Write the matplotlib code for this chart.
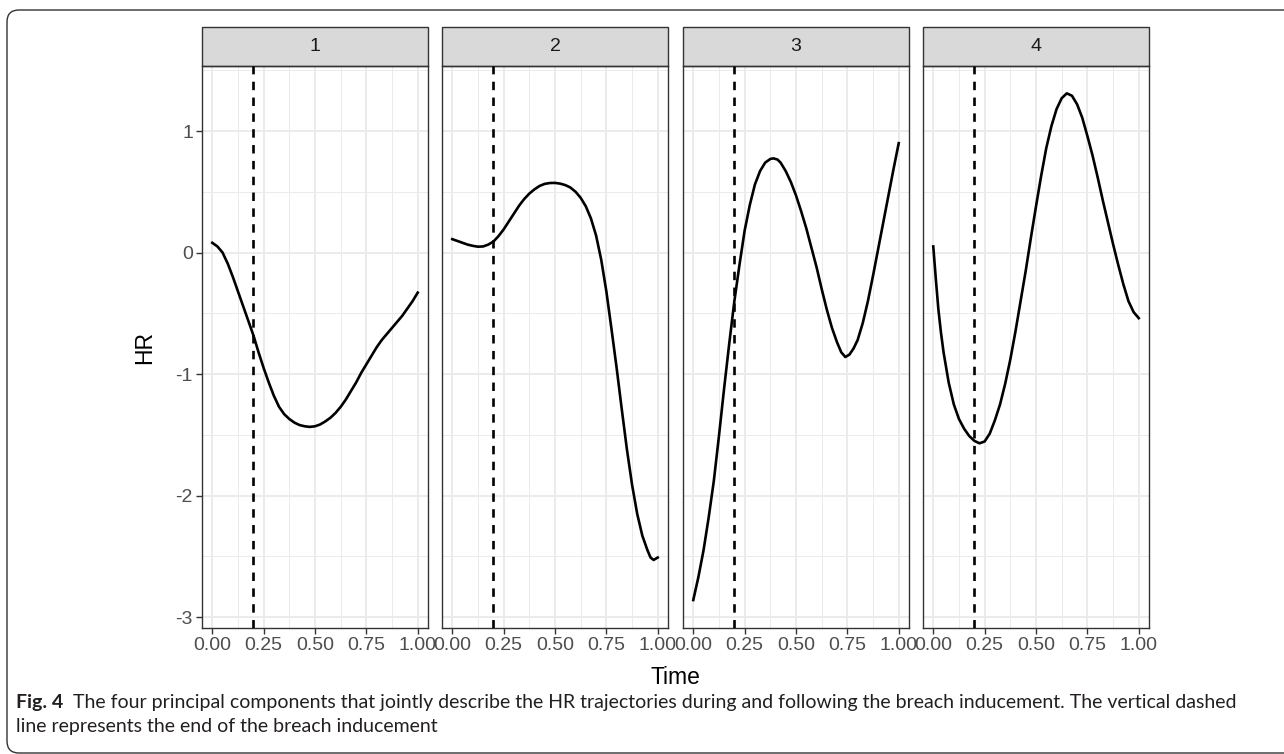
import matplotlib.pyplot as plt
from matplotlib.patches import Rectangle, FancyBboxPatch
from matplotlib.transforms import IdentityTransform
from matplotlib.ticker import MultipleLocator

plt.rcParams['font.family'] = 'Liberation Sans'
plt.rcParams['axes.unicode_minus'] = False

# Data
components = ['1', '2', '3', '4']

time_1 = [0, 0.025, 0.05, 0.075, 0.10, 0.125, 0.15, 0.175, 0.20, 0.225, 0.25,
          0.275, 0.30, 0.325, 0.35, 0.375, 0.40, 0.425, 0.45, 0.475, 0.50,
          0.525, 0.55, 0.575, 0.60, 0.625, 0.65, 0.675, 0.70, 0.725, 0.75,
          0.775, 0.80, 0.825, 0.85, 0.875, 0.90, 0.925, 0.95, 0.975, 1.00]
hr_1 = [0.08, 0.05, 0.0, -0.09, -0.20, -0.32, -0.44, -0.56, -0.68, -0.82, -0.95,
        -1.07, -1.18, -1.27, -1.33, -1.37, -1.40, -1.42, -1.43, -1.435, -1.43,
        -1.415, -1.39, -1.36, -1.32, -1.27, -1.21, -1.14, -1.07, -0.99, -0.92,
        -0.85, -0.78, -0.72, -0.67, -0.62, -0.57, -0.52, -0.46, -0.40, -0.33]

time_2 = [0, 0.025, 0.05, 0.075, 0.10, 0.125, 0.15, 0.175, 0.20, 0.225, 0.25,
          0.275, 0.30, 0.325, 0.35, 0.375, 0.40, 0.425, 0.45, 0.475, 0.50,
          0.525, 0.55, 0.575, 0.60, 0.625, 0.65, 0.675, 0.70, 0.725, 0.75,
          0.775, 0.80, 0.825, 0.85, 0.875, 0.90, 0.925, 0.95, 0.965, 0.98, 1.00]
hr_2 = [0.11, 0.095, 0.08, 0.065, 0.055, 0.048, 0.05, 0.065, 0.09, 0.135, 0.19,
        0.255, 0.32, 0.385, 0.44, 0.485, 0.52, 0.548, 0.565, 0.572, 0.573,
        0.567, 0.555, 0.535, 0.50, 0.45, 0.38, 0.28, 0.14, -0.06, -0.32,
        -0.63, -0.95, -1.29, -1.62, -1.91, -2.15, -2.33, -2.45, -2.51, -2.53, -2.51]

time_3 = [0, 0.025, 0.05, 0.075, 0.10, 0.125, 0.15, 0.175, 0.20, 0.225, 0.25,
          0.275, 0.30, 0.325, 0.35, 0.375, 0.39, 0.41, 0.425, 0.45, 0.475, 0.50,
          0.525, 0.55, 0.575, 0.60, 0.625, 0.65, 0.675, 0.70, 0.72, 0.74,
          0.76, 0.78, 0.80, 0.825, 0.85, 0.875, 0.90, 0.925, 0.95, 0.975, 1.00]
hr_3 = [-2.86, -2.67, -2.45, -2.18, -1.88, -1.51, -1.12, -0.75, -0.40, -0.10, 0.18,
        0.39, 0.56, 0.67, 0.74, 0.77, 0.775, 0.765, 0.74, 0.67, 0.58, 0.47,
        0.34, 0.20, 0.04, -0.12, -0.30, -0.47, -0.62, -0.74, -0.82, -0.86,
        -0.84, -0.79, -0.72, -0.58, -0.40, -0.19, 0.03, 0.25, 0.47, 0.69, 0.90]

time_4 = [0, 0.0125, 0.025, 0.0375, 0.05, 0.075, 0.10, 0.125, 0.15, 0.175, 0.20,
          0.225, 0.25, 0.275, 0.30, 0.325, 0.35, 0.375, 0.40, 0.425, 0.45, 0.475,
          0.50, 0.525, 0.55, 0.575, 0.60, 0.625, 0.65, 0.675, 0.70, 0.725, 0.75,
          0.775, 0.80, 0.825, 0.85, 0.875, 0.90, 0.925, 0.95, 0.975, 1.00]
hr_4 = [0.05, -0.22, -0.47, -0.66, -0.82, -1.07, -1.25, -1.37, -1.45, -1.51, -1.55,
        -1.57, -1.555, -1.49, -1.38, -1.25, -1.08, -0.88, -0.65, -0.40, -0.15, 0.12,
        0.38, 0.63, 0.86, 1.04, 1.18, 1.27, 1.31, 1.29, 1.22, 1.11, 0.96,
        0.80, 0.62, 0.43, 0.25, 0.07, -0.10, -0.26, -0.40, -0.49, -0.54]

times = [time_1, time_2, time_3, time_4]
hrs = [hr_1, hr_2, hr_3, hr_4]

breach_end = 0.2
y_ticks = [-3, -2, -1, 0, 1]
x_ticks = [0, 0.25, 0.5, 0.75, 1.0]
x_tick_labels = ['0.00', '0.25', '0.50', '0.75', '1.00']

caption_bold = 'Fig. 4'
caption_line1 = ('The four principal components that jointly describe the HR trajectories '
                 'during and following the breach inducement. The vertical dashed')
caption_line2 = 'line represents the end of the breach inducement'

W, H = 1284, 754
fig = plt.figure(figsize=(W / 100, H / 100), dpi=100)

# panel layout in pixels
panel_left = [202, 442, 683, 923]
panel_w = 226
panel_top, panel_bottom = 66, 628
strip_h = 39
ph = panel_bottom - panel_top

for i, comp in enumerate(components):
    ax = fig.add_axes([panel_left[i] / W, 1 - panel_bottom / H, panel_w / W, ph / H])
    ax.set_xlim(-0.05, 1.05)
    ax.set_ylim(-3.09, 1.535)
    ax.xaxis.set_minor_locator(MultipleLocator(0.125))
    ax.yaxis.set_minor_locator(MultipleLocator(0.5))
    ax.set_xticks(x_ticks)
    ax.set_xticklabels(x_tick_labels)
    ax.set_yticks(y_ticks)
    ax.grid(which='major', color='#EBEBEB', lw=1.4, zorder=0)
    ax.grid(which='minor', color='#EBEBEB', lw=0.7, zorder=0)
    ax.set_axisbelow(True)
    ax.tick_params(which='minor', length=0)
    ax.tick_params(which='major', length=4.5, width=1.0, color='#333333',
                   labelcolor='#4D4D4D', labelsize=14, pad=2)
    if i > 0:
        ax.tick_params(axis='y', left=False, labelleft=False)
    for sp in ax.spines.values():
        sp.set_color('#333333')
        sp.set_linewidth(1.0)

    ax.axvline(breach_end, color='black', lw=1.9, ls=(0, (3.2, 2.8)), zorder=3)
    ax.plot(times[i], hrs[i], color='black', lw=1.9, zorder=4,
            solid_joinstyle='round')

    # facet strip
    sh = strip_h / ph
    ax.add_patch(Rectangle((0, 1), 1, sh, transform=ax.transAxes, facecolor='#D9D9D9',
                           edgecolor='#333333', lw=1.0, clip_on=False))
    ax.text(0.5, 1 + sh / 2, comp, transform=ax.transAxes, ha='center', va='center',
            fontsize=14, color='#1A1A1A')

fig.text((panel_left[0] + panel_left[-1] + panel_w) / 2 / W, 1 - 677 / H, 'Time',
         ha='center', va='center', fontsize=16.5)
fig.text(145 / W, 1 - (panel_top + panel_bottom) / 2 / H, 'HR', rotation=90,
         ha='center', va='center', fontsize=16.5)

# caption
cap_font = 'Lato'
cap_size = 14
cap_color = '#231F20'
t_bold = fig.text(16 / W, 1 - 708 / H, caption_bold, fontsize=cap_size, fontweight='bold',
                  family=cap_font, color=cap_color, va='baseline', ha='left')
renderer = fig.canvas.get_renderer()
bb = t_bold.get_window_extent(renderer)
fig.text((bb.x1 + 10) / W, 1 - 708 / H, caption_line1, fontsize=cap_size,
         family=cap_font, color=cap_color, va='baseline', ha='left')
fig.text(16 / W, 1 - 732 / H, caption_line2, fontsize=cap_size,
         family=cap_font, color=cap_color, va='baseline', ha='left')

# rounded outer frame
frame = FancyBboxPatch((7, 1), 1320, 743, boxstyle='round,pad=0,rounding_size=12',
                       transform=IdentityTransform(), facecolor='none',
                       edgecolor='#333333', lw=1.0)
fig.patches.append(frame)

fig.savefig('out.png', dpi=100)
